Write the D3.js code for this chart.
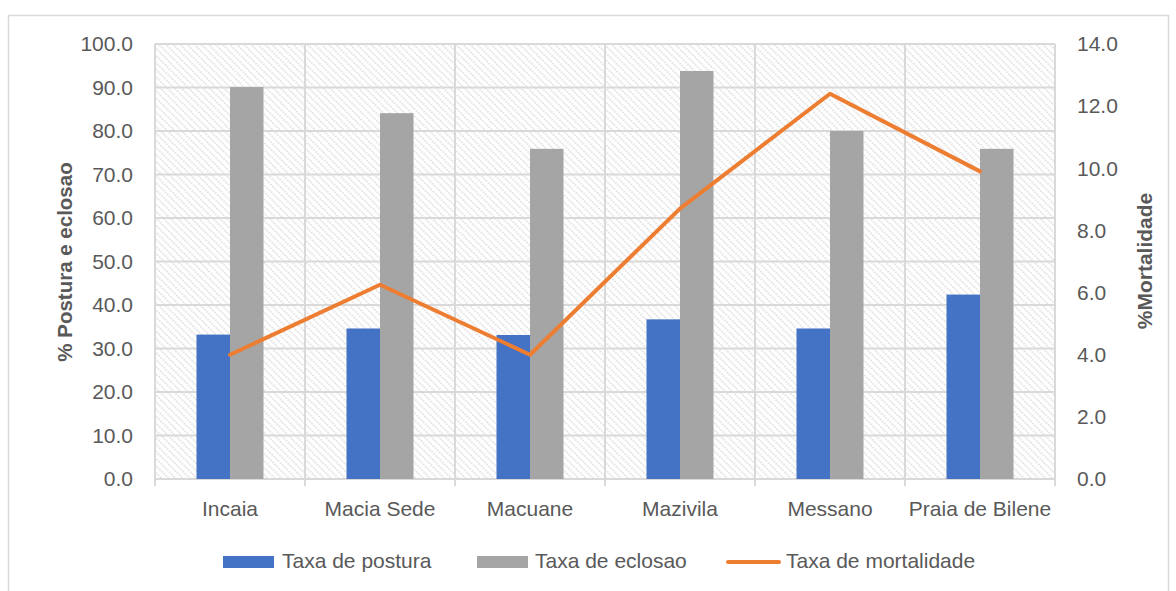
<!DOCTYPE html>
<html><head><meta charset="utf-8">
<script src="https://cdn.jsdelivr.net/npm/d3@7"></script>
<style>body{margin:0;background:#fff;font-family:"Liberation Sans",Arial,sans-serif}</style>
</head><body><svg id="c" width="1176" height="591"></svg>
<script>
const categories = ["Incaia","Macia Sede","Macuane","Mazivila","Messano","Praia de Bilene"];
const postura = [33.2, 34.6, 33.1, 36.7, 34.6, 42.4];
const eclosao = [90.1, 84.1, 75.9, 93.8, 80.0, 75.9];
const mortalidade = [4.0, 6.25, 4.0, 8.7, 12.4, 9.9];
const leftTicks = [0,10,20,30,40,50,60,70,80,90,100];
const rightTicks = [0,2,4,6,8,10,12,14];
const seriesNames = ["Taxa de postura","Taxa de eclosao","Taxa de mortalidade"];
const colors = ["#4472C4","#A5A5A5","#ED7D31"];

const svg = d3.select("#c");
const m = {l:155, r:1055, t:44, b:479};
const FONT = "'Liberation Sans',Arial,sans-serif";
svg.append("rect").attr("x",8.5).attr("y",15.5).attr("width",1160).attr("height",590).attr("fill","#fff").attr("stroke","#d9d9d9").attr("stroke-width",1.5);

const defs = svg.append("defs");
const pat = defs.append("pattern").attr("id","hatch").attr("patternUnits","userSpaceOnUse").attr("width",5).attr("height",6).attr("patternTransform","rotate(-45)");
pat.append("rect").attr("width",5).attr("height",6).attr("fill","#fff");
pat.append("line").attr("x1",1).attr("y1",0).attr("x2",1).attr("y2",6).attr("stroke","#dadada").attr("stroke-width",1.3).attr("stroke-dasharray","2,1");

const x = d3.scaleBand().domain(categories).range([m.l,m.r]).paddingInner(0).paddingOuter(0);
const yL = d3.scaleLinear().domain([0,100]).range([m.b,m.t]);
const yR = d3.scaleLinear().domain([0,14]).range([m.b,m.t]);
const bw = 67;
const xs = d3.scaleBand().domain([0,1]).range([0,bw]);

svg.append("rect").attr("x",m.l).attr("y",m.t).attr("width",m.r-m.l).attr("height",m.b-m.t).attr("fill","url(#hatch)");

svg.append("g").selectAll("line").data(leftTicks).join("line")
  .attr("x1",m.l).attr("x2",m.r).attr("y1",d=>yL(d)).attr("y2",d=>yL(d))
  .attr("stroke","#d9d9d9").attr("stroke-width",2);
const bounds = categories.map(c=>x(c)).concat([m.r]);
svg.append("g").selectAll("line").data(bounds).join("line")
  .attr("x1",d=>d).attr("x2",d=>d).attr("y1",m.t).attr("y2",m.b+7)
  .attr("stroke","#d9d9d9").attr("stroke-width",2);

const g = svg.append("g");
categories.forEach((c,i)=>{
  const x0 = x(c)+x.bandwidth()/2 - bw/2;
  g.append("rect").attr("x",x0+xs(0)).attr("width",xs.bandwidth()).attr("y",yL(postura[i])).attr("height",yL(0)-yL(postura[i])).attr("fill",colors[0]);
  g.append("rect").attr("x",x0+xs(1)).attr("width",xs.bandwidth()).attr("y",yL(eclosao[i])).attr("height",yL(0)-yL(eclosao[i])).attr("fill",colors[1]);
});

const line = d3.line().x((d,i)=>x(categories[i])+x.bandwidth()/2).y(d=>yR(d));
svg.append("path").datum(mortalidade).attr("d",line).attr("fill","none").attr("stroke",colors[2]).attr("stroke-width",4).attr("stroke-linecap","round").attr("stroke-linejoin","round");

const axL = svg.append("g").attr("transform",`translate(${m.l},0)`).call(d3.axisLeft(yL).tickValues(leftTicks).tickFormat(d3.format(".1f")).tickSize(0).tickPadding(22));
const axR = svg.append("g").attr("transform",`translate(${m.r},0)`).call(d3.axisRight(yR).tickValues(rightTicks).tickFormat(d3.format(".1f")).tickSize(0).tickPadding(22));
const axB = svg.append("g").attr("transform",`translate(0,${m.b})`).call(d3.axisBottom(x).tickSize(0).tickPadding(22));
[axL,axR,axB].forEach(a=>{
  a.select(".domain").remove();
  a.selectAll("text").attr("fill","#595959").style("font-size","21px").style("font-family",FONT);
});

svg.append("text").attr("transform","translate(72,262) rotate(-90)").attr("text-anchor","middle")
  .attr("fill","#595959").style("font-size","20.5px").style("font-weight","bold").style("font-family",FONT).text("% Postura e eclosao");
svg.append("text").attr("transform","translate(1152,261) rotate(-90)").attr("text-anchor","middle")
  .attr("fill","#595959").style("font-size","21px").style("font-weight","bold").style("font-family",FONT).text("%Mortalidade");

const leg = svg.append("g");
const legX = [223, 477, 726];
const legT = [282, 535, 786];
seriesNames.forEach((n,i)=>{
  if(i<2) leg.append("rect").attr("x",legX[i]).attr("y",556).attr("width",51).attr("height",12).attr("fill",colors[i]);
  else leg.append("line").attr("x1",legX[i]+2).attr("x2",legX[i]+53).attr("y1",562).attr("y2",562).attr("stroke",colors[i]).attr("stroke-width",4).attr("stroke-linecap","round");
  leg.append("text").attr("x",legT[i]).attr("y",568).attr("fill","#595959").style("font-size","21px").style("font-family",FONT).text(n);
});
</script></body></html>
